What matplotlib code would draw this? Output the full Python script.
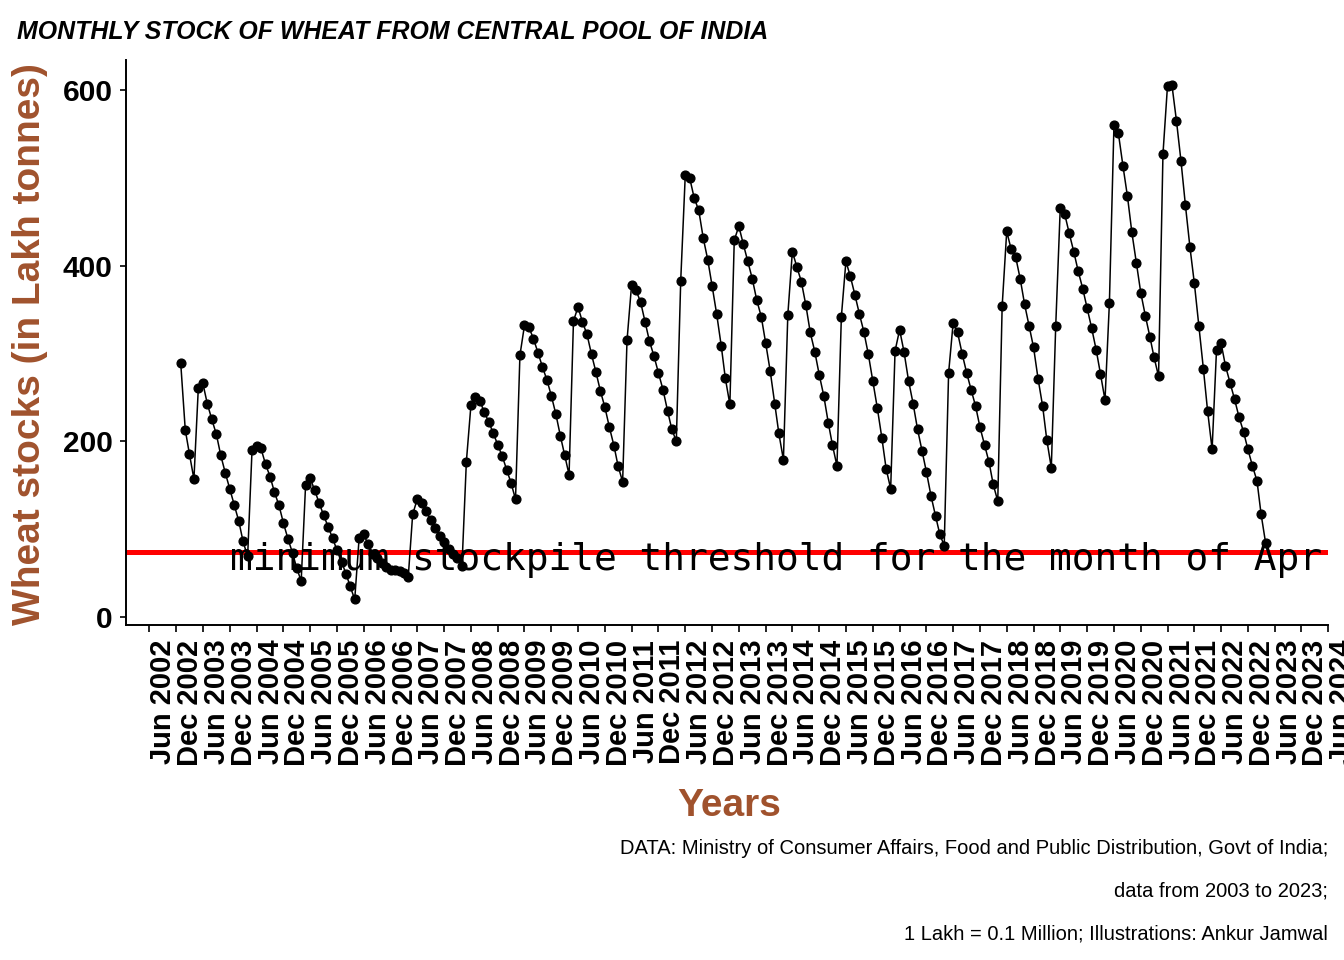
import numpy as np
import pandas as pd
import matplotlib
matplotlib.use("Agg")
import matplotlib.pyplot as plt
import matplotlib.dates as mdates

# monthly central pool wheat stock (lakh tonnes), 1st of each month, Jan 2003 .. Apr 2023
start_month = "2003-01-01"
stock_2003 = [289, 213, 186, 157, 261, 266, 243, 225, 208, 184, 164, 146]
stock_2004 = [127, 109, 86, 69, 190, 195, 192, 174, 160, 142, 127, 107]
stock_2005 = [89, 73, 56, 41, 150, 158, 145, 130, 116, 103, 90, 76]
stock_2006 = [63, 49, 35, 20, 90, 94, 83, 72, 67, 61, 57, 54]
stock_2007 = [53, 52, 50, 46, 117, 134, 130, 121, 110, 101, 92, 85]
stock_2008 = [78, 72, 67, 58, 177, 241, 250, 246, 233, 222, 209, 196]
stock_2009 = [183, 167, 153, 134, 298, 332, 330, 317, 301, 285, 270, 252]
stock_2010 = [231, 206, 185, 162, 337, 353, 336, 322, 299, 279, 257, 239]
stock_2011 = [216, 195, 172, 154, 315, 378, 372, 359, 336, 314, 297, 278]
stock_2012 = [259, 235, 214, 200, 383, 503, 500, 477, 463, 432, 407, 377]
stock_2013 = [345, 309, 272, 242, 429, 445, 425, 405, 385, 361, 342, 312]
stock_2014 = [280, 243, 209, 179, 344, 416, 399, 382, 355, 324, 302, 276]
stock_2015 = [252, 221, 196, 172, 342, 405, 388, 367, 345, 325, 299, 269]
stock_2016 = [238, 204, 169, 146, 303, 327, 302, 269, 243, 214, 189, 165]
stock_2017 = [138, 115, 95, 81, 278, 335, 324, 300, 278, 259, 240, 216]
stock_2018 = [196, 176, 151, 132, 354, 439, 419, 410, 385, 356, 331, 307]
stock_2019 = [271, 240, 202, 170, 331, 466, 459, 437, 416, 394, 374, 352]
stock_2020 = [329, 304, 277, 247, 358, 560, 551, 514, 479, 438, 403, 369]
stock_2021 = [343, 319, 296, 274, 527, 605, 606, 565, 519, 469, 421, 380]
stock_2022 = [331, 282, 235, 191, 304, 312, 286, 267, 248, 228, 211, 191]
stock_2023 = [172, 155, 117, 84]

april_threshold = 74.6
threshold_text = "minimum stockpile threshold for the month of Apr"
title_text = "MONTHLY STOCK OF WHEAT FROM CENTRAL POOL OF INDIA"
caption_lines = [
    "DATA: Ministry of Consumer Affairs, Food and Public Distribution, Govt of India;",
    "data from 2003 to 2023;",
    "1 Lakh = 0.1 Million; Illustrations: Ankur Jamwal",
]
y_ticks = [0, 200, 400, 600]

stock = (stock_2003 + stock_2004 + stock_2005 + stock_2006 + stock_2007 + stock_2008
         + stock_2009 + stock_2010 + stock_2011 + stock_2012 + stock_2013 + stock_2014
         + stock_2015 + stock_2016 + stock_2017 + stock_2018 + stock_2019 + stock_2020
         + stock_2021 + stock_2022 + stock_2023)
months = pd.date_range(start_month, periods=len(stock), freq="MS")
tick_dates = pd.date_range("2002-06-01", "2024-06-01", freq="6MS")
tick_labels = [d.strftime("%b %Y") for d in tick_dates]

W, H = 1344, 960
fig = plt.figure(figsize=(W / 100, H / 100), dpi=100)
ax = fig.add_axes([126 / W, 1 - 624.5 / H, (1328.3 - 126) / W, (624.5 - 60) / H])

sienna = "#A0522D"
bold = dict(family=["Liberation Sans", "DejaVu Sans"], weight="bold")

ax.plot(months, stock, color="black", lw=1.1, marker="o", ms=6.3, zorder=3)
ax.axhline(april_threshold, color="red", lw=3.6, zorder=2)
ax.text(pd.Timestamp("2003-12-01"), 53.5, threshold_text, ha="left", va="baseline",
        family=["DejaVu Sans Mono"], fontsize=27.3, color="black", zorder=4)

ax.set_xlim(pd.Timestamp("2001-12-24"), pd.Timestamp("2024-06-01"))
ax.set_ylim(-8.5, 634.2)
ax.set_xticks(tick_dates)
ax.set_xticklabels(tick_labels, rotation=90, ha="left", va="top", fontsize=21, **bold)
ax.set_yticks(y_ticks)
ax.set_yticklabels([str(v) for v in y_ticks], fontsize=21.5, **bold)
ax.tick_params(axis="x", length=5, width=1.2, pad=6)
ax.tick_params(axis="y", length=4.5, width=1.2, pad=5)
for s in ["top", "right"]:
    ax.spines[s].set_visible(False)
for s in ["left", "bottom"]:
    ax.spines[s].set_linewidth(1.4)

fig.text(30 / W, 1 - 344 / H, "Wheat stocks (in Lakh tonnes)", rotation=90,
         ha="center", va="center", fontsize=28, color=sienna, **bold)
fig.text(729 / W, 1 - 806 / H, "Years", ha="center", va="center",
         fontsize=28, color=sienna, **bold)

fig.text(17 / W, 1 - 32 / H, title_text, ha="left", va="center", fontsize=17.9,
         family=["Liberation Sans", "DejaVu Sans"], weight="bold", style="italic")

for i, line in enumerate(caption_lines):
    fig.text(1328 / W, 1 - (848 + 43 * i) / H, line, ha="right", va="center",
             fontsize=14.5, family=["Liberation Sans", "DejaVu Sans"])

fig.savefig("out.png", dpi=100)
